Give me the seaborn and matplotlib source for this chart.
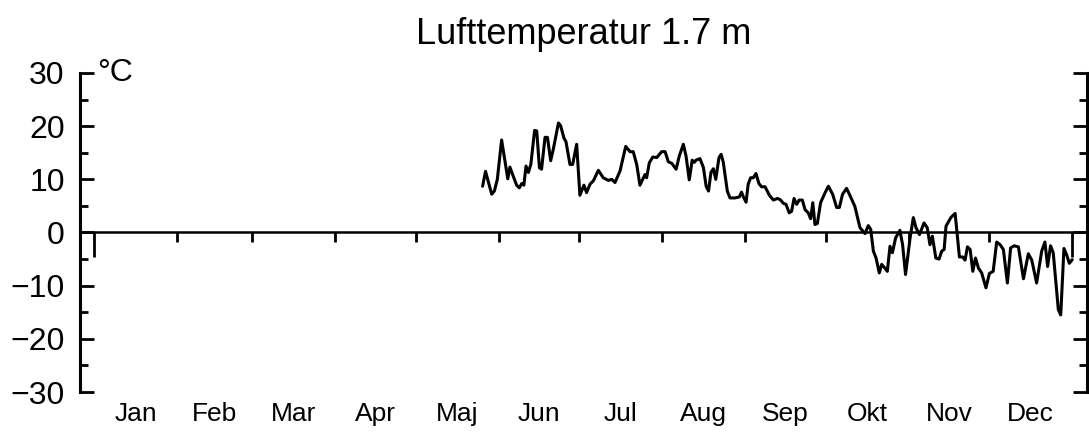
import matplotlib
matplotlib.use("Agg")
import matplotlib.pyplot as plt
from matplotlib.ticker import MultipleLocator
import seaborn as sns
import pandas as pd

# ---- data: day of year (0 = 1 Jan) and air temperature at 1.7 m (°C) ----
days = [145.0, 146.1, 148.4, 149.4, 150.5, 152.1, 154.4, 155.2, 156.2, 157.7,
        158.7, 159.6, 160.4, 161.2, 162.1, 163.0, 164.4, 165.2, 166.2, 167.0,
        168.3, 169.2, 170.4, 171.4, 173.3, 174.1, 175.4, 176.1, 177.6, 178.6,
        180.1, 181.3, 182.8, 183.8, 185.1, 186.3, 188.2, 190.0, 191.9, 193.2,
        194.4, 196.3, 198.4, 200.0, 201.2, 202.5, 203.7, 205.6, 206.2, 207.2,
        208.5, 210.0, 211.8, 213.1, 214.3, 215.6, 217.2, 218.4, 219.9, 220.9,
        222.1, 223.2, 224.0, 224.6, 226.1, 227.4, 228.4, 229.3, 230.2, 231.1,
        232.0, 233.2, 234.0, 234.8, 236.3, 237.3, 239.2, 240.8, 241.6, 242.3,
        243.3, 244.1, 245.0, 246.0, 247.0, 248.1, 249.1, 250.4, 252.0, 253.5,
        255.0, 256.0, 257.2, 258.2, 259.4, 260.3, 261.2, 262.2, 263.1, 264.3,
        265.3, 266.5, 267.4, 268.2, 269.0, 269.9, 271.1, 272.8, 274.0, 275.6,
        277.1, 278.1, 279.3, 280.8, 282.3, 283.9, 285.8, 287.7, 288.9, 289.8,
        290.8, 291.8, 293.0, 293.9, 295.1, 296.0, 297.0, 297.9, 299.1, 300.7,
        301.7, 302.8, 304.5, 305.7, 306.7, 308.0, 309.7, 310.9, 311.9, 312.8,
        314.1, 315.3, 316.3, 317.2, 317.9, 319.7, 321.3, 322.9, 324.1, 325.0,
        325.9, 326.9, 327.9, 328.9, 330.0, 331.2, 332.8, 334.1, 335.5, 336.8,
        338.1, 339.3, 340.8, 342.0, 343.3, 344.9, 346.8, 348.6, 349.9, 351.7,
        353.6, 354.8, 355.8, 356.9, 357.9, 359.8, 360.7, 361.9, 362.9, 363.9,
        365.0]
temps = [8.7, 11.5, 7.2, 7.8, 10.0, 17.4, 10.1, 12.3, 10.9, 8.9,
         8.4, 9.2, 8.9, 12.5, 11.3, 12.8, 19.2, 19.1, 12.2, 11.9,
         17.9, 17.9, 13.5, 15.7, 20.6, 20.1, 17.7, 17.1, 12.8, 12.8,
         16.6, 7.0, 8.9, 7.5, 9.1, 9.7, 11.7, 10.3, 9.8, 10.0,
         9.4, 11.6, 16.2, 15.2, 15.2, 12.8, 8.9, 10.9, 10.3, 13.1,
         14.2, 14.1, 15.2, 15.2, 13.3, 13.0, 11.9, 14.4, 16.6, 14.4,
         9.9, 13.6, 13.2, 13.6, 13.9, 12.2, 8.7, 7.8, 11.3, 12.0,
         10.0, 14.1, 14.7, 13.2, 7.8, 6.5, 6.5, 6.7, 7.6, 6.7,
         5.7, 9.1, 10.3, 10.3, 11.1, 9.2, 8.6, 8.6, 7.0, 6.1,
         6.4, 6.2, 5.5, 5.3, 3.7, 4.0, 6.4, 5.3, 6.1, 6.1,
         4.3, 3.7, 2.6, 5.6, 1.5, 1.7, 5.6, 7.5, 8.7, 7.2,
         4.7, 4.7, 7.2, 8.3, 6.7, 4.9, 0.9, -0.2, 1.3, 0.6,
         -3.5, -4.8, -7.6, -6.0, -6.7, -7.3, -2.6, -3.8, -1.0, 0.4,
         -2.3, -7.9, -1.0, 2.8, 0.9, -0.4, 1.8, 0.9, -2.3, -0.7,
         -4.8, -5.0, -3.5, -3.2, 1.2, 2.8, 3.6, -4.6, -4.6, -5.2,
         -2.7, -3.2, -7.3, -4.8, -6.7, -7.6, -10.4, -7.7, -7.3, -1.8,
         -2.3, -3.2, -9.5, -2.9, -2.5, -2.7, -8.7, -4.0, -5.2, -9.5,
         -3.5, -1.8, -6.4, -2.5, -3.8, -14.5, -15.5, -3.0, -4.2, -5.8,
         -5.1]

month_starts = [0, 31, 59, 90, 120, 151, 181, 212, 243, 273, 304, 334, 365]
month_labels = ["Jan", "Feb", "Mar", "Apr", "Maj", "Jun", "Jul", "Aug",
                "Sep", "Okt", "Nov", "Dec"]
title = "Lufttemperatur 1.7 m"
unit = "°C"

df = pd.DataFrame({"day": days, "temp": temps})

sns.set_style("ticks")
plt.rcParams["font.family"] = ["Liberation Sans", "DejaVu Sans"]
plt.rcParams["text.color"] = "black"
plt.rcParams["axes.labelcolor"] = "black"
plt.rcParams["xtick.color"] = "black"
plt.rcParams["ytick.color"] = "black"

fig = plt.figure(figsize=(10.89, 4.40), dpi=100)
ax = fig.add_axes([80 / 1089, 48 / 440, 1007 / 1089, 319 / 440])

sns.lineplot(data=df, x="day", y="temp", ax=ax, color="black",
             linewidth=2.2, sort=False, estimator=None)

ax.set_xlim(-5.2, 370.5)
ax.set_ylim(-30, 30)
ax.set_xlabel("")
ax.set_ylabel("")

# spines: left/right frame, top spine moved to y=0 as the zero line
ax.spines["bottom"].set_visible(False)
ax.spines["top"].set_position(("data", 0))
for s in ["left", "right"]:
    ax.spines[s].set_linewidth(2.2)
    ax.spines[s].set_color("black")
ax.spines["top"].set_linewidth(1.8)
ax.spines["top"].set_color("black")

# y ticks: inward on both sides, labels on left
ax.yaxis.set_major_locator(MultipleLocator(10))
ax.yaxis.set_minor_locator(MultipleLocator(5))
ax.tick_params(axis="y", which="major", direction="in", left=True, right=True,
               labelleft=True, labelright=False, length=10, width=2,
               labelsize=23, pad=11, colors="black")
ax.tick_params(axis="y", which="minor", direction="in", left=True, right=True,
               length=6, width=2, colors="black")

# x: month-boundary ticks on the zero line, month labels at the bottom
mids = [(month_starts[i] + month_starts[i + 1]) / 2 for i in range(12)]
ax.set_xticks(month_starts)
ax.set_xticks(mids, minor=True)
ax.set_xticklabels(month_labels, minor=True)
ax.tick_params(axis="x", which="major", top=True, bottom=False,
               labeltop=False, labelbottom=False, direction="in",
               length=7, width=2, colors="black")
ax.tick_params(axis="x", which="minor", top=False, bottom=True,
               labelbottom=True, length=0, labelsize=19, pad=7,
               colors="black")
major_ticks = ax.xaxis.get_major_ticks()
for t in (major_ticks[0], major_ticks[-1]):
    t.tick2line.set_markersize(18)

ax.set_title(title, fontsize=26, pad=21, color="black")
ax.text(0.017, 0.975, unit, transform=ax.transAxes, fontsize=23,
        ha="left", va="baseline", color="black")

fig.savefig("out.png", dpi=100)
